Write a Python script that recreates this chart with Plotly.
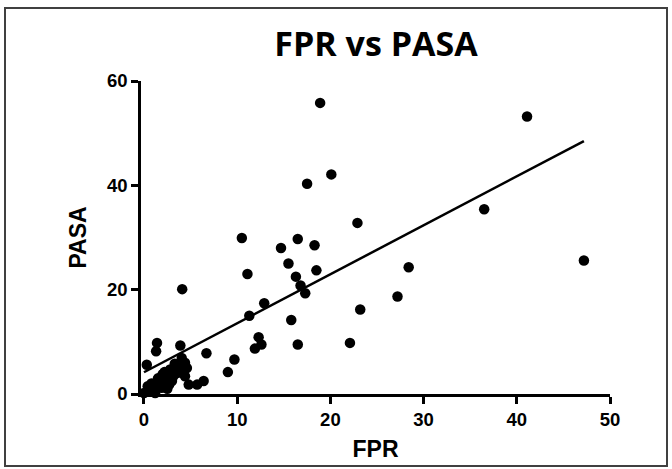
import plotly.graph_objects as go

# Data
fpr = [18.9, 41.1, 20.1, 17.5, 36.5, 22.9, 10.5, 16.5, 14.7, 18.3, 47.2, 15.5, 28.4,
       11.1, 18.5, 16.3, 16.8, 17.3, 4.1, 27.2, 12.9, 23.2, 11.3, 15.8, 12.3, 12.6,
       11.9, 16.5, 22.1, 6.7, 9.7, 9.0, 5.7, 6.4, 4.8, 1.4, 1.3, 3.9, 0.3,
       4.05, 4.4, 3.5, 2.8, 3.15, 2.3, 2.4, 1.5, 1.0, 1.9, 0.6, 0.0, 1.2, 3.9, 4.6, 4.4,
       2.0, 3.0, 1.5, 0.8, 2.5, 3.5, 2.2, 3.3, 1.8, 0.4, 4.2, 2.7]
pasa = [55.8, 53.2, 42.1, 40.3, 35.4, 32.8, 29.9, 29.7, 28.0, 28.5, 25.6, 25.0, 24.3,
        23.0, 23.7, 22.5, 20.8, 19.3, 20.1, 18.7, 17.4, 16.2, 15.0, 14.2, 10.9, 9.5,
        8.7, 9.5, 9.8, 7.8, 6.6, 4.2, 1.8, 2.5, 1.8, 9.8, 8.2, 9.3, 5.6,
        6.9, 6.0, 5.3, 4.7, 3.4, 3.1, 2.15, 2.15, 1.2, 1.2, 0.5, 0.2, 0.2, 4.1, 5.0, 3.4,
        3.8, 2.5, 3.0, 2.0, 1.0, 4.0, 4.2, 5.8, 2.6, 1.5, 4.6, 1.8]

# Linear fit
fit_slope = 0.939
fit_intercept = 4.17

x_ticks = [0, 10, 20, 30, 40, 50]
y_ticks = [0, 20, 40, 60]

title_text = "FPR vs PASA"
x_label = "FPR"
y_label = "PASA"

W, H = 672, 469
L, R, T, B = 141, 62, 81, 75
pw, ph = W - L - R, H - T - B

fit_x = [min(fpr), max(fpr)]
fit_y = [fit_slope * v + fit_intercept for v in fit_x]

fig = go.Figure()
fig.add_trace(go.Scatter(x=fit_x, y=fit_y, mode="lines",
                         line=dict(color="black", width=2.5), hoverinfo="skip"))
fig.add_trace(go.Scatter(x=fpr, y=pasa, mode="markers",
                         marker=dict(color="black", size=10.5, line=dict(width=0)),
                         cliponaxis=False))

def px2paper_x(px):
    return (px - L) / pw

def px2paper_y(py):
    return (H - B - py) / ph

tickfont = dict(family="Liberation Sans, Arial", size=18.5, color="black", weight="bold")
titlefont = dict(family="Liberation Sans, Arial", size=23, color="black", weight="bold")

fig.update_layout(
    width=W, height=H,
    margin=dict(l=L, r=R, t=T, b=B, pad=0),
    paper_bgcolor="white", plot_bgcolor="white",
    showlegend=False,
    title=dict(text=title_text, x=px2paper_x(376), xref="paper", xanchor="center",
               y=1 - 44 / H, yref="container", yanchor="middle",
               font=dict(family="Open Sans", size=34, color="black", weight="bold")),
    xaxis=dict(range=[-0.32, 50], tickvals=x_ticks, showgrid=False, zeroline=False,
               showline=True, linecolor="black", linewidth=2.5,
               ticks="outside", ticklen=7, tickwidth=2.5, tickcolor="black",
               tickfont=tickfont,
               title=dict(text=x_label, font=titlefont, standoff=12)),
    yaxis=dict(range=[0, 60], tickvals=y_ticks, showgrid=False, zeroline=False,
               showline=True, linecolor="black", linewidth=2.5,
               ticks="outside", ticklen=7, tickwidth=2.5, tickcolor="black",
               tickfont=tickfont,
               title=dict(text=y_label, font=titlefont, standoff=14)),
    shapes=[dict(type="rect", xref="paper", yref="paper",
                 x0=px2paper_x(5), x1=px2paper_x(667),
                 y0=px2paper_y(466), y1=px2paper_y(8),
                 line=dict(color="#404040", width=2), layer="below")],
)

fig.write_html("out.html")
